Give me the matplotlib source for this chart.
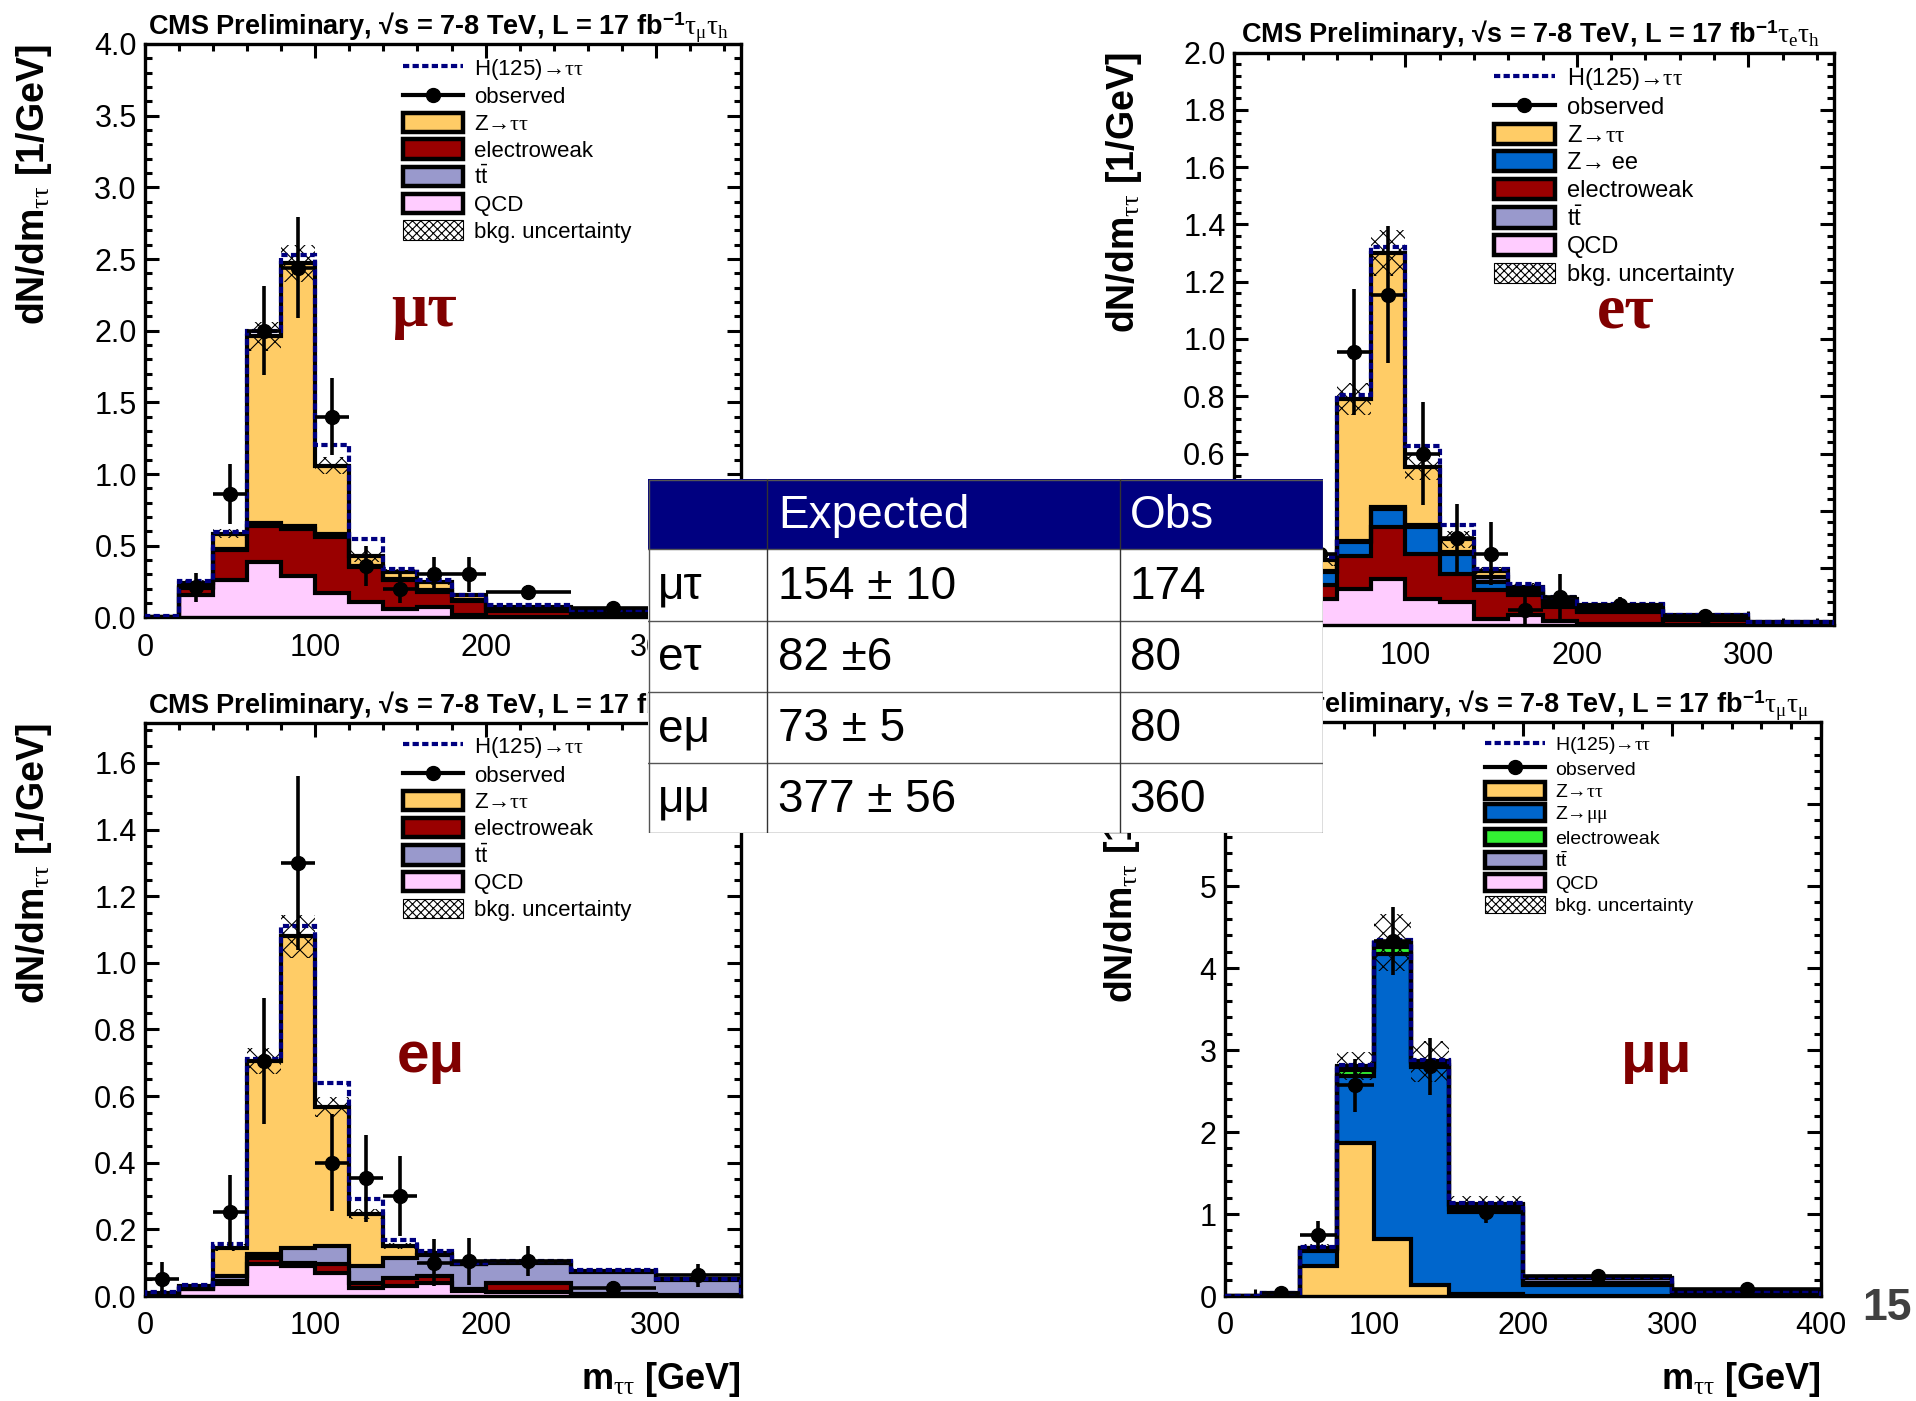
import numpy as np
import matplotlib
matplotlib.use("Agg")
import matplotlib.pyplot as plt
from matplotlib.patches import Patch, Rectangle
from matplotlib.lines import Line2D
from matplotlib.ticker import MultipleLocator, FormatStrFormatter

plt.rcParams["font.family"] = ["Liberation Sans", "DejaVu Sans"]
plt.rcParams["mathtext.fontset"] = "custom"
plt.rcParams["mathtext.rm"] = "Liberation Serif"
plt.rcParams["mathtext.it"] = "Liberation Serif:italic"
plt.rcParams["mathtext.bf"] = "Liberation Sans:bold"
plt.rcParams["mathtext.sf"] = "Liberation Sans"
plt.rcParams["hatch.linewidth"] = 0.8

# ---------------- data (dN/dm per bin, 1/GeV) ----------------
edges_lep = [0, 20, 40, 60, 80, 100, 120, 140, 160, 180, 200, 250, 300, 350]
edges_mm = [0, 25, 50, 75, 100, 125, 150, 200, 300, 400]

# mu-tau_h
mt_qcd = [0.0, 0.16, 0.26, 0.39, 0.29, 0.17, 0.11, 0.06, 0.07, 0.02, 0.005, 0.003, 0.002]
mt_ewk = [0.0, 0.045, 0.21, 0.25, 0.33, 0.39, 0.24, 0.20, 0.11, 0.095, 0.04, 0.024, 0.016]
mt_tt = [0.0, 0.005, 0.01, 0.02, 0.02, 0.02, 0.01, 0.01, 0.01, 0.005, 0.005, 0.003, 0.002]
mt_ztt = [0.005, 0.03, 0.105, 1.30, 1.83, 0.48, 0.07, 0.05, 0.06, 0.035, 0.025, 0.015, 0.01]
mt_sig = [0.005, 0.015, 0.01, 0.04, 0.06, 0.14, 0.12, 0.02, 0.01, 0.005, 0.01, 0.005, 0.003]
mt_unc = [0.0, 0.02, 0.03, 0.10, 0.13, 0.06, 0.04, 0.02, 0.02, 0.01, 0.005, 0.003, 0.002]
mt_obs = [np.nan, 0.21, 0.86, 2.0, 2.44, 1.40, 0.36, 0.20, 0.30, 0.30, 0.18, 0.064, 0.04]
mt_err = [np.nan, 0.10, 0.21, 0.31, 0.35, 0.27, 0.14, 0.10, 0.12, 0.12, 0.05, 0.03, 0.025]

# e-tau_h
et_qcd = [0.0, 0.03, 0.093, 0.128, 0.163, 0.093, 0.081, 0.023, 0.035, 0.015, 0.005, 0.003, 0.001]
et_ewk = [0.0, 0.02, 0.047, 0.116, 0.18, 0.157, 0.099, 0.099, 0.07, 0.049, 0.042, 0.017, 0.007]
et_zee = [0.0, 0.01, 0.046, 0.046, 0.064, 0.093, 0.07, 0.029, 0.01, 0.006, 0.003, 0.002, 0.001]
et_tt = [0.0, 0.002, 0.004, 0.005, 0.005, 0.009, 0.006, 0.018, 0.01, 0.008, 0.006, 0.004, 0.002]
et_ztt = [0.002, 0.008, 0.037, 0.495, 0.888, 0.201, 0.044, 0.021, 0.009, 0.015, 0.014, 0.009, 0.001]
et_sig = [0.001, 0.005, 0.013, 0.015, 0.02, 0.072, 0.05, 0.008, 0.009, 0.006, 0.006, 0.003, 0.001]
et_unc = [0.0, 0.005, 0.02, 0.055, 0.08, 0.045, 0.03, 0.015, 0.015, 0.01, 0.005, 0.003, 0.002]
et_obs = [np.nan, 0.06, 0.25, 0.955, 1.155, 0.60, 0.305, 0.25, 0.055, 0.10, 0.07, 0.033, np.nan]
et_err = [np.nan, 0.04, 0.10, 0.22, 0.24, 0.18, 0.12, 0.11, 0.05, 0.08, 0.03, 0.02, np.nan]

# e-mu
em_qcd = [0.0, 0.022, 0.035, 0.095, 0.09, 0.068, 0.025, 0.03, 0.04, 0.015, 0.012, 0.002, 0.001]
em_ewk = [0.0, 0.0, 0.01, 0.02, 0.008, 0.027, 0.015, 0.025, 0.02, 0.005, 0.028, 0.004, 0.002]
em_tt = [0.0, 0.003, 0.015, 0.01, 0.047, 0.055, 0.05, 0.06, 0.062, 0.075, 0.06, 0.066, 0.045]
em_ztt = [0.01, 0.005, 0.085, 0.58, 0.935, 0.417, 0.155, 0.035, 0.008, 0.002, 0.002, 0.003, 0.002]
em_sig = [0.002, 0.002, 0.01, 0.007, 0.03, 0.073, 0.045, 0.018, 0.005, 0.003, 0.002, 0.004, 0.002]
em_unc = [0.002, 0.003, 0.01, 0.04, 0.065, 0.03, 0.015, 0.01, 0.01, 0.005, 0.005, 0.004, 0.003]
em_obs = [0.052, np.nan, 0.253, 0.705, 1.30, 0.40, 0.353, 0.30, 0.10, 0.104, 0.104, 0.025, 0.062]
em_err = [0.05, np.nan, 0.11, 0.19, 0.26, 0.145, 0.13, 0.12, 0.07, 0.07, 0.045, 0.02, 0.035]

# mu-mu
mm_ztt = [0.0, 0.005, 0.37, 1.86, 0.69, 0.14, 0.03, 0.005, 0.002]
mm_zmm = [0.0, 0.02, 0.18, 0.82, 3.48, 2.65, 1.0, 0.125, 0.038]
mm_ewk = [0.0, 0.003, 0.02, 0.08, 0.09, 0.03, 0.03, 0.03, 0.005]
mm_tt = [0.0, 0.002, 0.01, 0.03, 0.04, 0.03, 0.05, 0.06, 0.015]
mm_qcd = [0.005, 0.005, 0.005, 0.01, 0.01, 0.01, 0.01, 0.005, 0.002]
mm_sig = [0.0, 0.002, 0.01, 0.02, 0.03, 0.02, 0.01, 0.005, 0.002]
mm_unc = [0.0, 0.005, 0.05, 0.17, 0.35, 0.25, 0.10, 0.02, 0.005]
mm_obs = [np.nan, 0.04, 0.75, 2.57, 4.33, 2.80, 1.02, 0.24, 0.08]
mm_err = [np.nan, 0.02, 0.17, 0.32, 0.42, 0.35, 0.13, 0.04, 0.025]

# event yield table
table_channels = ["μτ", "eτ", "eμ", "μμ"]
table_expected = ["154 ± 10", "82 ±6", "73 ± 5", "377 ± 56"]
table_observed = ["174", "80", "80", "360"]

# ---------------- style ----------------
C_ZTT = "#FFCC66"
C_EWK = "#990000"
C_TT = "#9999CC"
C_QCD = "#FFCCFF"
C_ZLL = "#0066CC"
C_GRN = "#33F033"
NAVY = "#000080"
DARKRED = "#800000"

W, H = 1916, 1401
fig = plt.figure(figsize=(W / 100, H / 100), dpi=100)
fig.patch.set_facecolor("white")


def add_axes_px(x0, x1, y0, y1):
    return fig.add_axes([x0 / W, 1 - y1 / H, (x1 - x0) / W, (y1 - y0) / H])


def draw_panel(ax, edges, layers, signal, unc, obs, err):
    edges = np.asarray(edges, float)
    bottom = np.zeros(len(edges) - 1)
    tops = []
    for vals, col in layers:
        top = bottom + np.asarray(vals, float)
        ax.stairs(top, edges, baseline=bottom, fill=True, color=col, lw=0, zorder=2)
        tops.append(top)
        bottom = top
    for top in tops:
        ax.stairs(top, edges, baseline=0, color="black", lw=3, zorder=3)
    total = bottom
    unc = np.asarray(unc, float)
    ax.bar(edges[:-1], 2 * unc, width=np.diff(edges), bottom=total - unc,
           align="edge", fill=False, hatch="xx", lw=0, edgecolor="black", zorder=4)
    ax.stairs(total + np.asarray(signal, float), edges, baseline=0, color=NAVY,
              lw=3, ls=(0, (1.5, 0.8)), zorder=5)
    centers = 0.5 * (edges[1:] + edges[:-1])
    half = 0.5 * np.diff(edges)
    obs = np.asarray(obs, float)
    err = np.asarray(err, float)
    m = ~np.isnan(obs)
    ax.errorbar(centers[m], obs[m], xerr=half[m], yerr=err[m], fmt="o",
                color="black", ms=10, elinewidth=2.6, capsize=0, zorder=6)


def style_axes(ax, xmax, ymax, ymaj, ymin, yfmt, xmaj=100, xmin=20):
    ax.set_xlim(0, xmax)
    ax.set_ylim(0, ymax)
    ax.xaxis.set_major_locator(MultipleLocator(xmaj))
    ax.xaxis.set_minor_locator(MultipleLocator(xmin))
    ax.yaxis.set_major_locator(MultipleLocator(ymaj))
    ax.yaxis.set_minor_locator(MultipleLocator(ymin))
    ax.yaxis.set_major_formatter(FormatStrFormatter(yfmt))
    ax.tick_params(which="both", direction="in", top=True, right=True, width=2.2)
    ax.tick_params(which="major", length=10, labelsize=22)
    ax.tick_params(axis="y", which="major", pad=6)
    ax.tick_params(axis="x", which="major", pad=11)
    ax.tick_params(which="minor", length=5)
    for sp in ax.spines.values():
        sp.set_linewidth(2.4)


def legend(ax, entries, x, y, fs, hl, hh, sp):
    handles, labels = [], []
    for kind, col, lab in entries:
        if kind == "sig":
            h = Line2D([], [], color=NAVY, lw=3, ls=(0, (1.5, 0.8)))
        elif kind == "obs":
            h = Line2D([], [], color="black", lw=3, marker="o", ms=10)
        elif kind == "unc":
            h = Patch(facecolor="white", edgecolor="black", hatch="xxxx", lw=0.8)
        else:
            h = Patch(facecolor=col, edgecolor="black", lw=3.2)
        handles.append(h)
        labels.append(lab)
    ax.legend(handles, labels, loc="upper left", bbox_to_anchor=(x, y),
              frameon=False, fontsize=fs, handlelength=hl, handleheight=hh,
              handletextpad=0.5, labelspacing=sp, borderpad=0, borderaxespad=0,
              numpoints=1)


L_SIG = r"H(125)→$\mathrm{\tau\tau}$"
L_ZTT = r"Z→$\mathrm{\tau\tau}$"
L_TT = r"$\mathsf{t\bar{t}}$"

ylab = r"dN/dm$_{\mathrm{\tau\tau}}$ [1/GeV]"
xlab = r"m$_{\mathrm{\tau\tau}}$ [GeV]"
title_base = "CMS Preliminary, √s = 7-8 TeV, L = 17 fb$^{\\mathbf{-1}}$"

# ---------------- mu tau ----------------
ax1 = add_axes_px(145, 741, 44, 617.5)
draw_panel(ax1, edges_lep,
           [(mt_qcd, C_QCD), (mt_ewk, C_EWK), (mt_tt, C_TT), (mt_ztt, C_ZTT)],
           mt_sig, mt_unc, mt_obs, mt_err)
style_axes(ax1, 350, 4.0, 0.5, 0.1, "%.1f")
legend(ax1, [("sig", None, L_SIG), ("obs", None, "observed"),
             ("box", C_ZTT, L_ZTT), ("box", C_EWK, "electroweak"),
             ("box", C_TT, L_TT), ("box", C_QCD, "QCD"),
             ("unc", None, "bkg. uncertainty")], 0.433, 0.978, 16, 2.7, 0.95, 0.2)
ax1.text(0.468, 0.535, "μτ", transform=ax1.transAxes, ha="center", va="center",
         fontsize=46, fontweight="bold", family="Liberation Serif", color=DARKRED)

# ---------------- e tau ----------------
ax2 = add_axes_px(1234, 1834, 52.6, 625.4)
draw_panel(ax2, edges_lep,
           [(et_qcd, C_QCD), (et_ewk, C_EWK), (et_zee, C_ZLL), (et_tt, C_TT), (et_ztt, C_ZTT)],
           et_sig, et_unc, et_obs, et_err)
style_axes(ax2, 350, 2.0, 0.2, 0.04, "%.1f")
legend(ax2, [("sig", None, L_SIG), ("obs", None, "observed"),
             ("box", C_ZTT, L_ZTT), ("box", C_ZLL, "Z→ ee"),
             ("box", C_EWK, "electroweak"),
             ("box", C_TT, L_TT), ("box", C_QCD, "QCD"),
             ("unc", None, "bkg. uncertainty")], 0.433, 0.977, 17, 2.6, 0.95, 0.18)
ax2.text(0.653, 0.547, "eτ", transform=ax2.transAxes, ha="center", va="center",
         fontsize=46, fontweight="bold", family="Liberation Serif", color=DARKRED)

# ---------------- e mu ----------------
ax3 = add_axes_px(145, 741, 723, 1296)
draw_panel(ax3, edges_lep,
           [(em_qcd, C_QCD), (em_ewk, C_EWK), (em_tt, C_TT), (em_ztt, C_ZTT)],
           em_sig, em_unc, em_obs, em_err)
style_axes(ax3, 350, 1.72, 0.2, 0.05, "%.1f")
legend(ax3, [("sig", None, L_SIG), ("obs", None, "observed"),
             ("box", C_ZTT, L_ZTT), ("box", C_EWK, "electroweak"),
             ("box", C_TT, L_TT), ("box", C_QCD, "QCD"),
             ("unc", None, "bkg. uncertainty")], 0.433, 0.979, 16, 2.7, 0.95, 0.2)
ax3.text(0.48, 0.417, "eμ", transform=ax3.transAxes, ha="center", va="center",
         fontsize=42, fontweight="bold", color=DARKRED)

# ---------------- mu mu ----------------
ax4 = add_axes_px(1225, 1821, 722, 1296)
draw_panel(ax4, edges_mm,
           [(mm_ztt, C_ZTT), (mm_zmm, C_ZLL), (mm_ewk, C_GRN), (mm_tt, C_TT), (mm_qcd, C_QCD)],
           mm_sig, mm_unc, mm_obs, mm_err)
style_axes(ax4, 400, 7.0, 1, 0.2, "%d")
legend(ax4, [("sig", None, L_SIG), ("obs", None, "observed"),
             ("box", C_ZTT, L_ZTT), ("box", C_ZLL, r"Z→$\mathrm{\mu\mu}$"),
             ("box", C_GRN, "electroweak"),
             ("box", C_TT, L_TT), ("box", C_QCD, "QCD"),
             ("unc", None, "bkg. uncertainty")], 0.436, 0.977, 14, 3.1, 0.95, 0.17)
ax4.text(0.725, 0.417, "μμ", transform=ax4.transAxes, ha="center", va="center",
         fontsize=42, fontweight="bold", color=DARKRED)

# ---------------- titles and axis labels ----------------
titles = [
    (ax1, title_base + r"$\mathrm{\tau_{\mu}\tau_{h}}$", 0.005),
    (ax2, title_base + r"$\mathrm{\tau_{e}\tau_{h}}$", 0.012),
    (ax3, title_base + r"$\mathrm{\tau_{e}\tau_{\mu}}$", 0.005),
    (ax4, title_base + r"$\mathrm{\tau_{\mu}\tau_{\mu}}$", 0.005),
]
for ax, t, x0 in titles:
    ax.text(x0, 1.016, t, transform=ax.transAxes, ha="left", va="baseline",
            fontsize=19.5, fontweight="bold")

for ax, xl in [(ax1, -0.152), (ax2, -0.15), (ax3, -0.152), (ax4, -0.14)]:
    ax.set_ylabel(ylab, fontsize=27, fontweight="bold", loc="top")
    ax.yaxis.set_label_coords(xl, 1.0)

for ax in (ax3, ax4):
    ax.set_xlabel(xlab, fontsize=26, fontweight="bold", loc="right")
    ax.xaxis.set_label_coords(1.0, -0.112)

# ---------------- yield table ----------------
tx0, tx1, ty0, ty1 = 648, 1323, 479, 833
tab = add_axes_px(tx0, tx1, ty0, ty1)
tab.set_zorder(10)
tw, th = tx1 - tx0, ty1 - ty0
tab.set_xlim(0, tw)
tab.set_ylim(th, 0)
tab.axis("off")
row_y = [0, 70, 141.5, 212.5, 283.5, th]
col_x = [0, 119, 471.5, tw]
tab.add_patch(Rectangle((0, 0), tw, th, facecolor="white", edgecolor="none"))
tab.add_patch(Rectangle((0, 0), tw, row_y[1], facecolor=NAVY, edgecolor="none"))
for y in row_y[1:-1]:
    tab.plot([0, tw], [y, y], color="#555555", lw=1.0)
for x in col_x[1:-1]:
    tab.plot([x, x], [0, th], color="#333333", lw=1.0)
tab.add_patch(Rectangle((0.5, 0.5), tw - 1, th - 1, facecolor="none",
                        edgecolor="#555555", lw=1.0))
pads = [10, 11, 10]
headers = ["", "Expected", "Obs"]
for j, htxt in enumerate(headers):
    tab.text(col_x[j] + pads[j], 0.5 * (row_y[0] + row_y[1]) + 2, htxt, color="white",
             fontsize=33, ha="left", va="center")
for i in range(len(table_channels)):
    yc = 0.5 * (row_y[i + 1] + row_y[i + 2]) + 2
    for j, val in enumerate([table_channels[i], table_expected[i], table_observed[i]]):
        tab.text(col_x[j] + pads[j], yc, val, color="black", fontsize=33,
                 ha="left", va="center")

# page number
fig.text(1912 / W, 1 - 1308 / H, "15", ha="right", va="center", fontsize=32,
         fontweight="bold", color="#404040")

fig.savefig("out.png", dpi=100, facecolor="white")
